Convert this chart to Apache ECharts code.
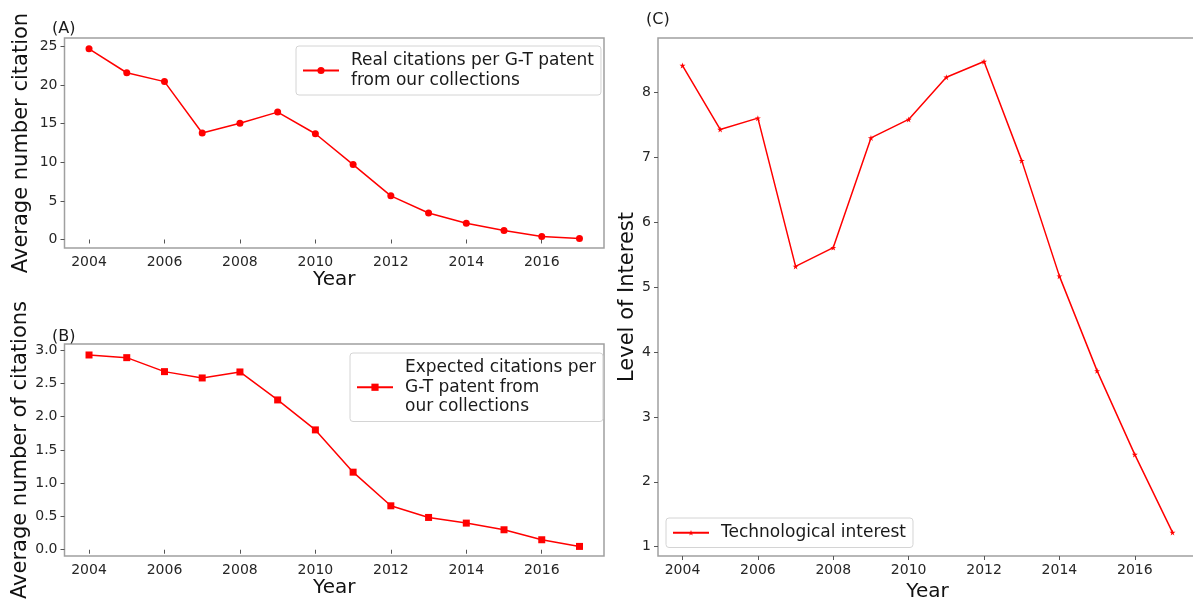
<!DOCTYPE html>
<html>
<head>
<meta charset="utf-8">
<title>G-T patent citations</title>
<script src="https://cdn.jsdelivr.net/npm/echarts@6/dist/echarts.min.js"></script>
<style>
html, body { margin: 0; padding: 0; background: #fff; }
#container { width: 1193px; height: 599px; }
</style>
</head>
<body>
<div id="container"></div>
<script>
// data
var years = [2004, 2005, 2006, 2007, 2008, 2009, 2010, 2011, 2012, 2013, 2014, 2015, 2016, 2017];
var realCitations = [24.7, 21.6, 20.45, 13.8, 15.05, 16.5, 13.7, 9.7, 5.66, 3.43, 2.1, 1.16, 0.39, 0.13];
var expectedCitations = [2.925, 2.885, 2.675, 2.58, 2.67, 2.25, 1.8, 1.165, 0.66, 0.485, 0.4, 0.3, 0.15, 0.05];
var interest = [8.415, 7.43, 7.605, 5.32, 5.61, 7.3, 7.585, 8.235, 8.477, 6.95, 5.17, 3.71, 2.42, 1.22];

// tick labels
var yearTicks = [2004, 2006, 2008, 2010, 2012, 2014, 2016];
var realTicks = [0, 5, 10, 15, 20, 25];
var expectedTicks = [0, 0.5, 1, 1.5, 2, 2.5, 3];
var interestTicks = [1, 2, 3, 4, 5, 6, 7, 8];

var realName = 'Real citations per G-T patent\nfrom our collections';
var expectedName = 'Expected citations per\nG-T patent from\nour collections';
var interestName = 'Technological interest';

var page = {
    font: 'DejaVu Sans',
    red: '#ff0000',
    star: 'path://M0,-1L0.2245,-0.309L0.951,-0.309L0.363,0.118L0.588,0.809L0,0.382L-0.588,0.809L-0.363,0.118L-0.951,-0.309L-0.2245,-0.309Z',
    init: function () {
        var chart = echarts.init(document.getElementById('container'));
        chart.setOption(this.buildOption());
    },
    pairs: function (values) {
        return years.map(function (y, i) { return [y, values[i]]; });
    },
    grid: function (left, top, width, height) {
        return {
            left: left, top: top, width: width, height: height,
            outerBoundsMode: 'none',
            show: true, borderColor: '#a0a0a0', borderWidth: 1.5,
            backgroundColor: 'transparent'
        };
    },
    xAxis: function (idx, gap) {
        return {
            type: 'value', gridIndex: idx,
            min: 2003.35, max: 2017.65,
            name: 'Year', nameLocation: 'middle', nameGap: gap,
            nameTextStyle: { fontSize: 20, color: '#111', fontFamily: this.font },
            axisLine: { show: false },
            splitLine: { show: false },
            axisTick: { show: true, inside: false, length: 4, customValues: yearTicks, lineStyle: { color: '#555' } },
            axisLabel: {
                fontSize: 14, color: '#262626', margin: 7, fontFamily: this.font,
                customValues: yearTicks,
                formatter: function (v) { return String(v); }
            }
        };
    },
    yAxis: function (idx, name, gap, min, max, ticks, digits) {
        return {
            type: 'value', gridIndex: idx,
            min: min, max: max,
            name: name, nameLocation: 'middle', nameGap: gap,
            nameTextStyle: { fontSize: 21, color: '#111', fontFamily: this.font },
            axisLine: { show: false },
            splitLine: { show: false },
            axisTick: { show: true, inside: false, length: 4, customValues: ticks, lineStyle: { color: '#555' } },
            axisLabel: {
                fontSize: 14, color: '#262626', margin: 7, fontFamily: this.font,
                customValues: ticks,
                formatter: function (v) { return v.toFixed(digits); }
            }
        };
    },
    legend: function (name, left, top, itemHeight) {
        return {
            data: [name], left: left, top: top,
            padding: [5, 7, 5, 6],
            itemWidth: 36, itemHeight: itemHeight,
            backgroundColor: 'rgba(255,255,255,0.8)',
            borderColor: '#d4d4d4', borderWidth: 1, borderRadius: 3,
            selectedMode: false,
            textStyle: { fontSize: 17, lineHeight: 19.5, color: '#1a1a1a', fontFamily: this.font, padding: [0, 0, 0, 7] }
        };
    },
    series: function (name, idx, values, symbol, size) {
        return {
            name: name, type: 'line',
            xAxisIndex: idx, yAxisIndex: idx,
            data: this.pairs(values),
            symbol: symbol, symbolSize: size,
            showAllSymbol: true,
            color: this.red,
            itemStyle: { color: this.red },
            lineStyle: { color: this.red, width: 1.5 },
            animation: false
        };
    },
    label: function (text, left, top) {
        return {
            type: 'text', left: left, top: top,
            style: { text: text, fontSize: 16, fill: '#1a1a1a', fontFamily: this.font }
        };
    },
    buildOption: function () {
        return {
            animation: false,
            textStyle: { fontFamily: this.font },
            grid: [
                this.grid(64.5, 38, 539.5, 210),
                this.grid(64.5, 344, 539.5, 212),
                // right edge of panel C runs past the window
                this.grid(658, 38, 539, 518)
            ],
            xAxis: [
                this.xAxis(0, 22),
                this.xAxis(1, 21),
                this.xAxis(2, 21)
            ],
            yAxis: [
                this.yAxis(0, 'Average number citation', 32, -1.1, 26.1, realTicks, 0),
                this.yAxis(1, 'Average number of citations', 32, -0.094, 3.09, expectedTicks, 1),
                this.yAxis(2, 'Level of Interest', 20, 0.857, 8.84, interestTicks, 0)
            ],
            legend: [
                this.legend(realName, 296, 46, 9),
                this.legend(expectedName, 350, 353, 9),
                this.legend(interestName, 666, 518, 7)
            ],
            series: [
                this.series(realName, 0, realCitations, 'circle', 7),
                this.series(expectedName, 1, expectedCitations, 'rect', 7),
                this.series(interestName, 2, interest, this.star, 6)
            ],
            graphic: [
                this.label('(A)', 52, 21),
                this.label('(B)', 52, 329),
                this.label('(C)', 646, 12)
            ]
        };
    }
};

page.init();
</script>
</body>
</html>
